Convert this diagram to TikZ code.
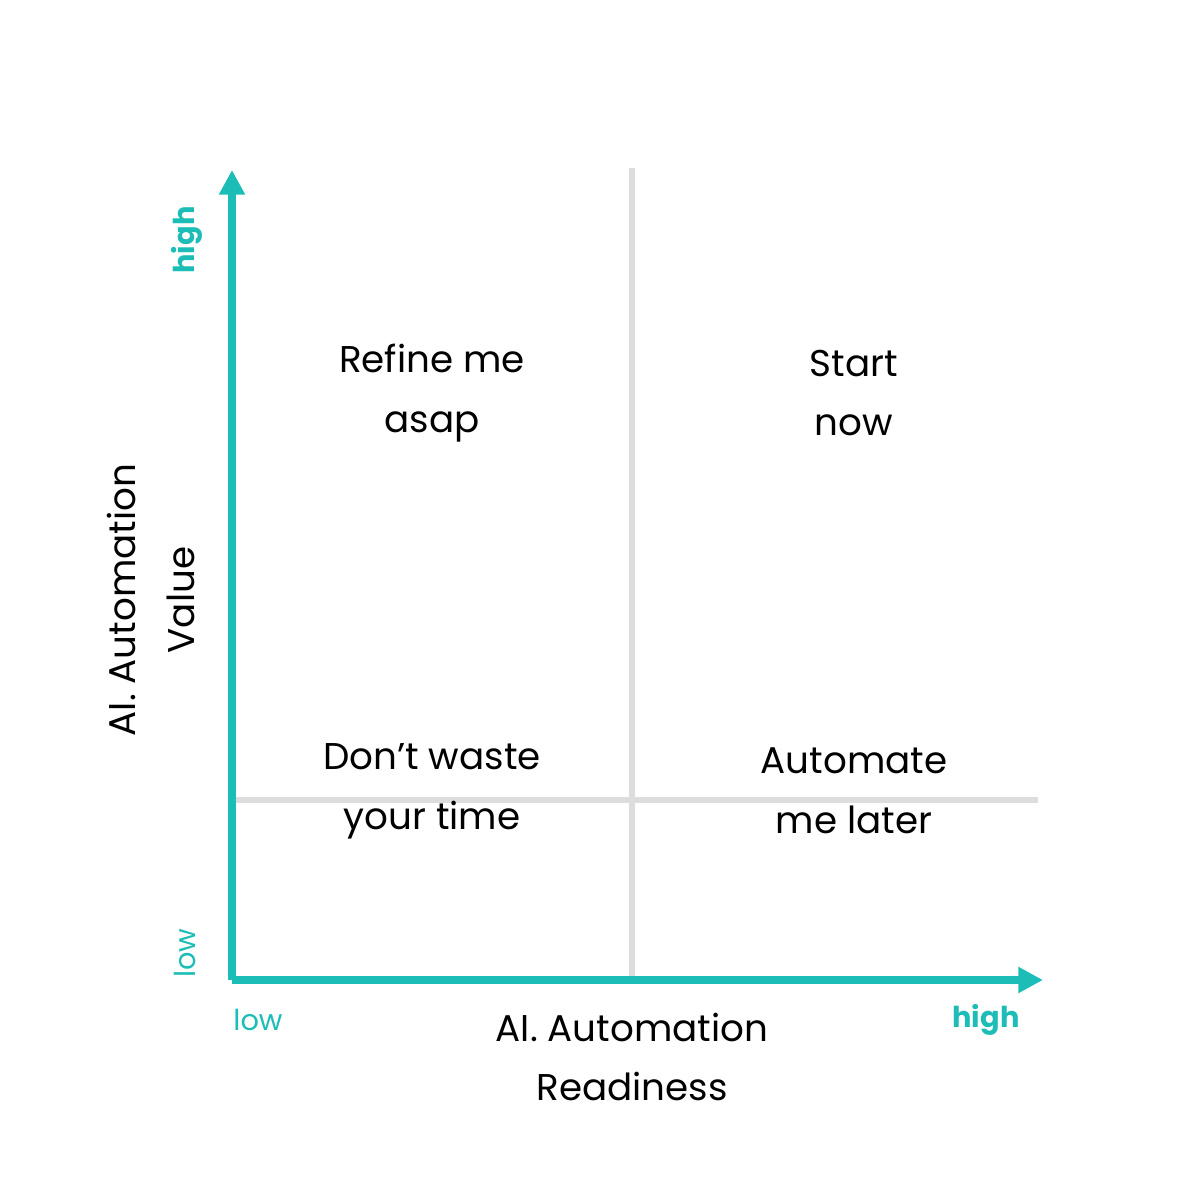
\documentclass[tikz,border=0pt]{standalone}
\usepackage{fontspec}
\setmainfont{Poppins}
\usetikzlibrary{arrows.meta}
\definecolor{teal1}{HTML}{1CBDB6}
\definecolor{grid1}{HTML}{DDDDDD}
\tikzset{
  axis/.style={teal1,line width=2.2pt,-{Triangle[length=7pt,width=7pt]}},
  gridline/.style={grid1,line width=1.6pt},
  quad/.style={align=center,font=\fontsize{10.6}{17}\selectfont,inner sep=0pt},
  big/.style={align=center,font=\fontsize{10.6}{17}\selectfont,inner sep=0pt},
  small/.style={teal1,font=\fontsize{8.2}{10}\selectfont,inner sep=0pt},
}
\begin{document}
\begin{tikzpicture}[x=1cm,y=1cm]
\useasboundingbox (0,0) rectangle (12,12);
\coordinate (o) at (2.32,2.2);
\coordinate (ytop) at (2.32,10.3);
\coordinate (xend) at (10.43,2.2);
\coordinate (vt) at (6.32,10.32);
\coordinate (vb) at (6.32,2.2);
\coordinate (hl) at (2.32,4.0);
\coordinate (hr) at (10.38,4.0);
\draw[gridline] (vt) -- (vb);
\draw[gridline] (hl) -- (hr);
\draw[axis] (o) -- (ytop);
\draw[axis] (o) -- (xend);
\node[quad] (q1) at (4.32,8.07) {Refine me\\asap};
\node[quad] (q2) at (8.54,8.07) {Start\\now};
\node[quad] (q3) at (4.32,4.09) {Don’t waste\\your time};
\node[quad] (q4) at (8.54,4.09) {Automate\\me later};
\node[big,rotate=90] (yl) at (1.51,6.0) {AI. Automation\\Value};
\node[big] (xl) at (6.32,1.43) {AI. Automation\\Readiness};
\node[small,rotate=90,font=\fontsize{8.2}{10}\selectfont\bfseries] (yh) at (1.87,9.6) {high};
\node[small,rotate=90] (ylo) at (1.85,2.47) {low};
\node[small] (xlo) at (2.58,1.8) {low};
\node[small,font=\fontsize{8.2}{10}\selectfont\bfseries] (xh) at (9.86,1.8) {high};
\end{tikzpicture}
\end{document}
